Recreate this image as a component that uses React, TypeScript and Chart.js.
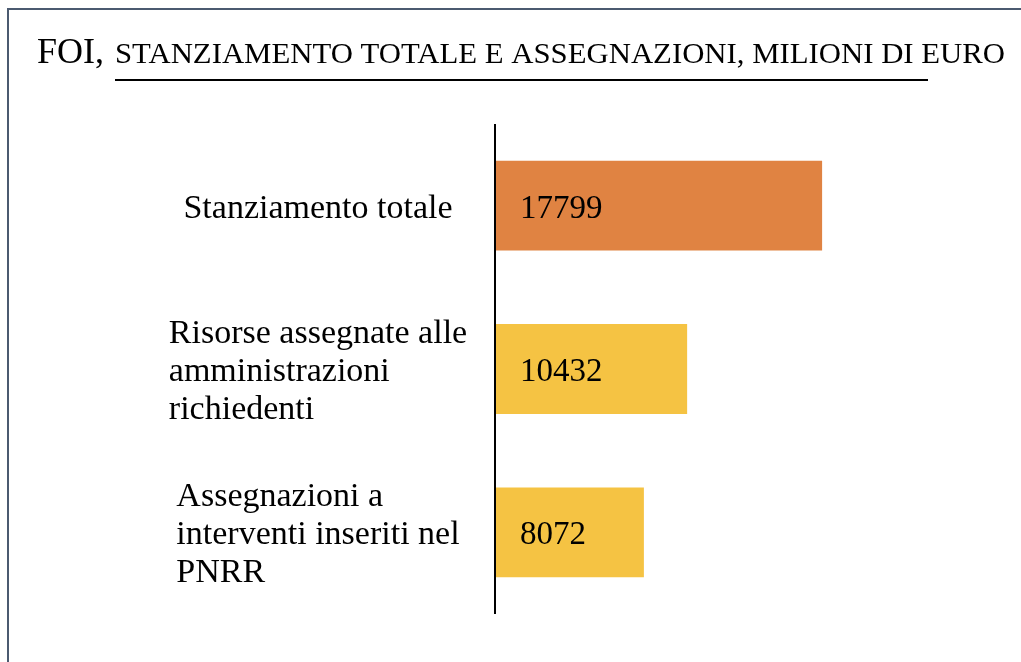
import React, { useEffect, useRef } from "react";
import { Chart, registerables } from "chart.js";

Chart.register(...registerables);

// ---- data ----
const categories: string[][] = [
  ["Stanziamento totale"],
  ["Risorse assegnate alle", "amministrazioni", "richiedenti"],
  ["Assegnazioni a", "interventi inseriti nel", "PNRR"],
];
const values: number[] = [17799, 10432, 8072];
const barColors: string[] = ["#E08342", "#F5C343", "#F5C343"];
const titleLead = "FOI,";
const titleRest = "STANZIAMENTO TOTALE E ASSEGNAZIONI, MILIONI DI EURO";
const xMax = 28000;

const SERIF = '"Liberation Serif", "Times New Roman", Times, serif';

const overlayPlugin = {
  id: "overlay",
  afterDatasetsDraw(chart: any) {
    const ctx: CanvasRenderingContext2D = chart.ctx;
    const area = chart.chartArea;
    const xScale = chart.scales.x;
    const yScale = chart.scales.y;
    ctx.save();

    // Title
    ctx.fillStyle = "#000";
    ctx.textBaseline = "alphabetic";
    ctx.textAlign = "left";
    ctx.font = `36px ${SERIF}`;
    ctx.fillText(titleLead, 37, 63);
    ctx.font = `30px ${SERIF}`;
    const natural = ctx.measureText(titleRest).width;
    const target = 890;
    ctx.save();
    ctx.translate(115, 63);
    ctx.scale(target / natural, 1);
    ctx.fillText(titleRest, 0, 0);
    ctx.restore();
    // underline
    ctx.strokeStyle = "#000";
    ctx.lineWidth = 2;
    ctx.beginPath();
    ctx.moveTo(115, 80);
    ctx.lineTo(928, 80);
    ctx.stroke();

    // Vertical axis line at x = 0
    const x0 = xScale.getPixelForValue(0);
    ctx.strokeStyle = "#000";
    ctx.lineWidth = 2;
    ctx.beginPath();
    ctx.moveTo(x0 - 1, area.top);
    ctx.lineTo(x0 - 1, area.bottom);
    ctx.stroke();

    // Category labels (left-aligned lines, block centred)
    ctx.font = `34px ${SERIF}`;
    ctx.textAlign = "left";
    const blockCenter = 318;
    const lineH = 38;
    categories.forEach((lines, i) => {
      const cy = yScale.getPixelForValue(i);
      const w = Math.max(...lines.map((l) => ctx.measureText(l).width));
      const left = blockCenter - w / 2;
      lines.forEach((l, j) => {
        const by = cy + 12 + (j - (lines.length - 1) / 2) * lineH;
        ctx.fillText(l, left, by);
      });
    });

    // Value labels inside bars
    ctx.font = `33px ${SERIF}`;
    const meta = chart.getDatasetMeta(0);
    meta.data.forEach((bar: any, i: number) => {
      ctx.fillText(String(values[i]), bar.base + 24, bar.y + 12);
    });

    ctx.restore();
  },
};

export default function App() {
  const ref = useRef<HTMLCanvasElement | null>(null);

  useEffect(() => {
    document.body.style.margin = "0";
    if (!ref.current) return;
    const chart = new Chart(ref.current, {
      type: "bar",
      data: {
        labels: categories.map((c) => c.join(" ")),
        datasets: [
          {
            data: values,
            backgroundColor: barColors,
            borderWidth: 0,
            categoryPercentage: 1,
            barPercentage: 0.55,
          },
        ],
      },
      options: {
        indexAxis: "y",
        animation: false,
        responsive: false,
        devicePixelRatio: 1,
        layout: { padding: { left: 496, top: 124, bottom: 48, right: 12 } },
        scales: {
          x: { display: false, min: 0, max: xMax },
          y: { display: false },
        },
        plugins: {
          legend: { display: false },
          tooltip: { enabled: false },
          title: { display: false },
        },
      },
      plugins: [overlayPlugin],
    });
    return () => chart.destroy();
  }, []);

  return (
    <div
      style={{
        position: "fixed",
        left: 0,
        top: 0,
        width: 1021,
        height: 662,
        overflow: "hidden",
        background: "#fff",
      }}
    >
      <div
        style={{
          position: "absolute",
          left: 7,
          top: 8,
          width: 1200,
          height: 900,
          borderLeft: "2px solid #4B5A70",
          borderTop: "2px solid #4B5A70",
          boxSizing: "border-box",
        }}
      />
      <canvas
        ref={ref}
        width={1021}
        height={662}
        style={{ position: "absolute", left: 0, top: 0, width: 1021, height: 662 }}
      />
    </div>
  );
}
